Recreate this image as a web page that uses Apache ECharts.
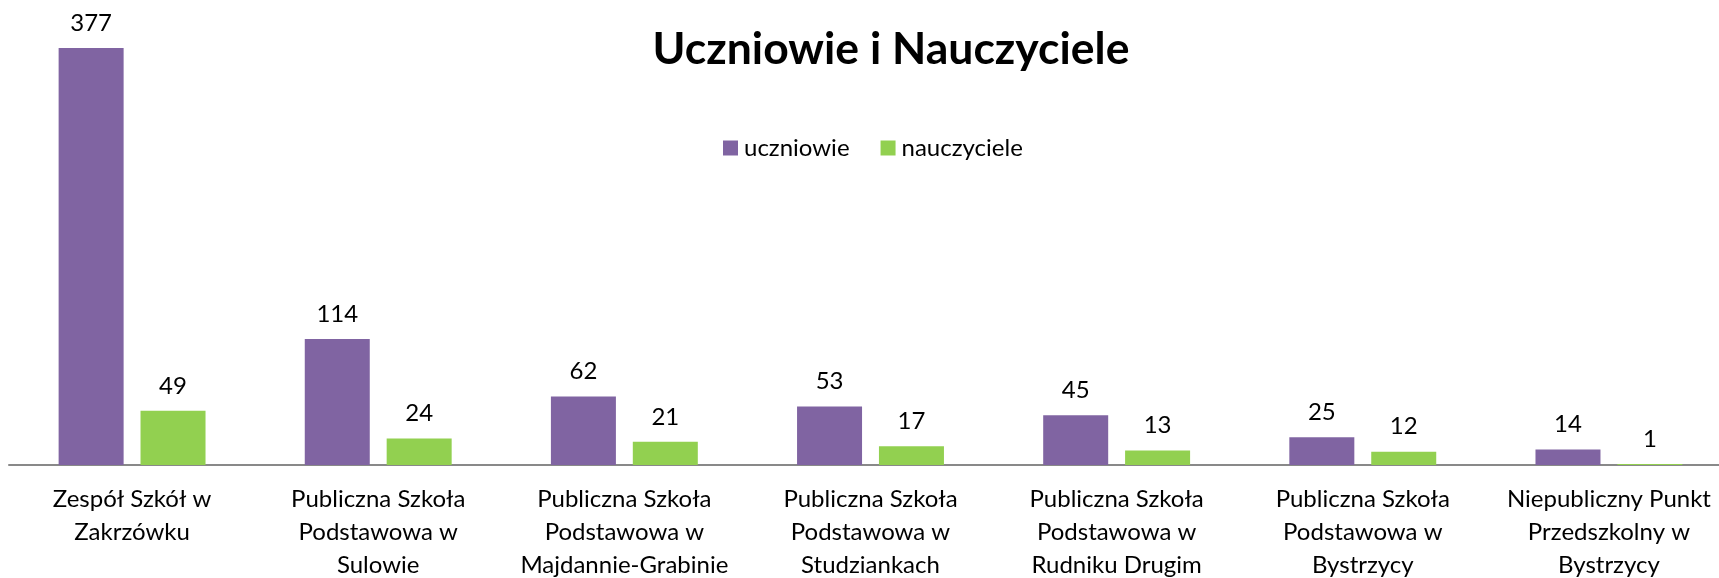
<!DOCTYPE html>
<html>
<head>
<meta charset="utf-8">
<title>Uczniowie i Nauczyciele</title>
<script src="https://cdn.jsdelivr.net/npm/echarts@6/dist/echarts.min.js"></script>
<style>
  html, body {
    margin: 0;
    padding: 0;
    background: #fff;
  }
  #chart {
    width: 1719px;
    height: 578px;
  }
</style>
</head>
<body>
<div id="chart"></div>
<script>
// dane
const schools = [
  'Zespół Szkół w\nZakrzówku',
  'Publiczna Szkoła\nPodstawowa w\nSulowie',
  'Publiczna Szkoła\nPodstawowa w\nMajdannie-Grabinie',
  'Publiczna Szkoła\nPodstawowa w\nStudziankach',
  'Publiczna Szkoła\nPodstawowa w\nRudniku Drugim',
  'Publiczna Szkoła\nPodstawowa w\nBystrzycy',
  'Niepubliczny Punkt\nPrzedszkolny w\nBystrzycy'
]
const students = [377, 114, 62, 53, 45, 25, 14]
const teachers = [49, 24, 21, 17, 13, 12, 1]

const FONT = 'Lato'

const chart = echarts.init(document.getElementById('chart'))

const labelStyle = {
  show: true,
  position: 'top',
  distance: 13,
  color: '#000',
  fontFamily: FONT,
  fontSize: 24
}

const option = {
  backgroundColor: '#fff',
  animation: false,
  title: {
    text: 'Uczniowie i Nauczyciele',
    left: 886,
    top: 22,
    textAlign: 'center',
    textStyle: {
      fontFamily: FONT,
      fontWeight: 'bold',
      fontSize: 44.5,
      color: '#000'
    }
  },
  legend: {
    left: 718,
    top: 131,
    itemWidth: 15,
    itemHeight: 15,
    itemGap: 31,
    icon: 'rect',
    textStyle: {
      fontFamily: FONT,
      fontSize: 24,
      color: '#000',
      padding: [0, 0, 0, 1]
    },
    data: ['uczniowie', 'nauczyciele']
  },
  grid: {
    left: 9,
    width: 1723,
    top: 48,
    bottom: 113,
    containLabel: false,
    outerBoundsMode: 'none'
  },
  xAxis: {
    type: 'category',
    data: schools,
    axisTick: { show: false },
    axisLine: {
      lineStyle: {
        color: '#898989',
        width: 2
      }
    },
    axisLabel: {
      interval: 0,
      margin: 18,
      color: '#000',
      fontFamily: FONT,
      fontSize: 24,
      lineHeight: 33
    }
  },
  yAxis: {
    type: 'value',
    min: 0,
    max: 377,
    show: false,
    splitLine: { show: false }
  },
  series: [
    {
      name: 'uczniowie',
      type: 'bar',
      data: students,
      barWidth: 65,
      barGap: '26%',
      itemStyle: { color: '#8064A2' },
      label: labelStyle
    },
    {
      name: 'nauczyciele',
      type: 'bar',
      data: teachers,
      barWidth: 65,
      itemStyle: { color: '#92D050' },
      label: labelStyle
    }
  ]
}

chart.setOption(option)
</script>
</body>
</html>
